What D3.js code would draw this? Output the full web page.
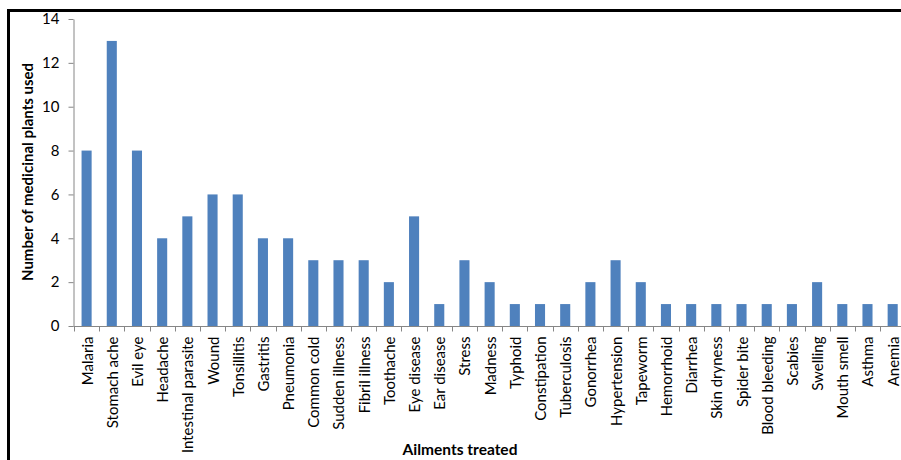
<!DOCTYPE html>
<html>
<head>
<meta charset="utf-8">
<script src="https://cdn.jsdelivr.net/npm/d3@7"></script>
<style>
  html, body { margin: 0; padding: 0; background: #fff; }
  svg { display: block; }
  text { font-family: Lato, "Open Sans", sans-serif; fill: #000; }
</style>
</head>
<body>
<svg id="chart" width="901" height="460"></svg>
<script>
// Ailments and the number of medicinal plants used for each
const ailments = [
  "Malaria", "Stomach ache", "Evil eye", "Headache", "Intestinal parasite",
  "Wound", "Tonsillitis", "Gastritis", "Pneumonia", "Common cold",
  "Sudden illness", "Fibril illness", "Toothache", "Eye disease", "Ear disease",
  "Stress", "Madness", "Typhoid", "Constipation", "Tuberculosis",
  "Gonorrhea", "Hypertension", "Tapeworm", "Hemorrhoid", "Diarrhea",
  "Skin dryness", "Spider bite", "Blood bleeding", "Scabies", "Swelling",
  "Mouth smell", "Asthma", "Anemia"
];
const plantCounts = [
  8, 13, 8, 4, 5,
  6, 6, 4, 4, 3,
  3, 3, 2, 5, 1,
  3, 2, 1, 1, 1,
  2, 3, 2, 1, 1,
  1, 1, 1, 1, 2,
  1, 1, 1
];
const yTicks = [0, 2, 4, 6, 8, 10, 12, 14];

const yTitle = "Number of medicinal plants used";
const xTitle = "Ailments treated";

const svg = d3.select("#chart");

// Frame around the chart area
svg.append("rect")
  .attr("x", 8.5).attr("y", 10.5)
  .attr("width", 1000).attr("height", 1000)
  .attr("fill", "none")
  .attr("stroke", "#000")
  .attr("stroke-width", 3);

const plot = { left: 74, top: 19, bottom: 326 };
const band = 25.19;

const x = d3.scaleBand()
  .domain(ailments)
  .range([plot.left, plot.left + band * ailments.length])
  .paddingInner(0.6)
  .paddingOuter(0.3);

const xTicksScale = d3.scaleBand()
  .domain(ailments)
  .range([plot.left, plot.left + band * ailments.length]);

const y = d3.scaleLinear()
  .domain([0, 14])
  .range([plot.bottom, plot.top]);

// Bars
svg.append("g")
  .selectAll("rect")
  .data(plantCounts)
  .join("rect")
  .attr("x", (d, i) => x(ailments[i]))
  .attr("y", d => y(d))
  .attr("width", x.bandwidth())
  .attr("height", d => y(0) - y(d))
  .attr("fill", "#4F81BD");

// Y axis
const yAxis = svg.append("g")
  .attr("transform", `translate(${plot.left - 0.5},0)`)
  .call(d3.axisLeft(y).tickValues(yTicks).tickSize(5).tickPadding(9).tickSizeOuter(0));
yAxis.select(".domain").attr("stroke", "#868686");
yAxis.selectAll(".tick line").attr("stroke", "#868686");
yAxis.selectAll(".tick text")
  .attr("font-size", 15)
  .attr("font-family", "Lato, sans-serif")
  .attr("fill", "#000");

// X axis: baseline with ticks on band boundaries
const xAxisG = svg.append("g")
  .attr("transform", `translate(0,${plot.bottom + 0.5})`);
xAxisG.append("line")
  .attr("x1", plot.left - 0.5).attr("x2", plot.left + band * ailments.length)
  .attr("stroke", "#868686");
xAxisG.selectAll("line.tk")
  .data(ailments)
  .join("line")
  .attr("class", "tk")
  .attr("x1", d => Math.round(xTicksScale(d)) + 0.5)
  .attr("x2", d => Math.round(xTicksScale(d)) + 0.5)
  .attr("y1", 0).attr("y2", 5)
  .attr("stroke", "#868686");
xAxisG.selectAll("text")
  .data(ailments)
  .join("text")
  .attr("transform", d => `translate(${x(d) + x.bandwidth() / 2 + 6},${10}) rotate(-90)`)
  .attr("text-anchor", "end")
  .attr("font-size", 15)
  .text(d => d);

// Axis titles
svg.append("text")
  .attr("transform", `translate(33,172) rotate(-90)`)
  .attr("text-anchor", "middle")
  .attr("font-size", 15)
  .attr("font-weight", "bold")
  .text(yTitle);

svg.append("text")
  .attr("x", 460).attr("y", 455)
  .attr("text-anchor", "middle")
  .attr("font-size", 15.5)
  .attr("font-weight", "bold")
  .text(xTitle);
</script>
</body>
</html>
